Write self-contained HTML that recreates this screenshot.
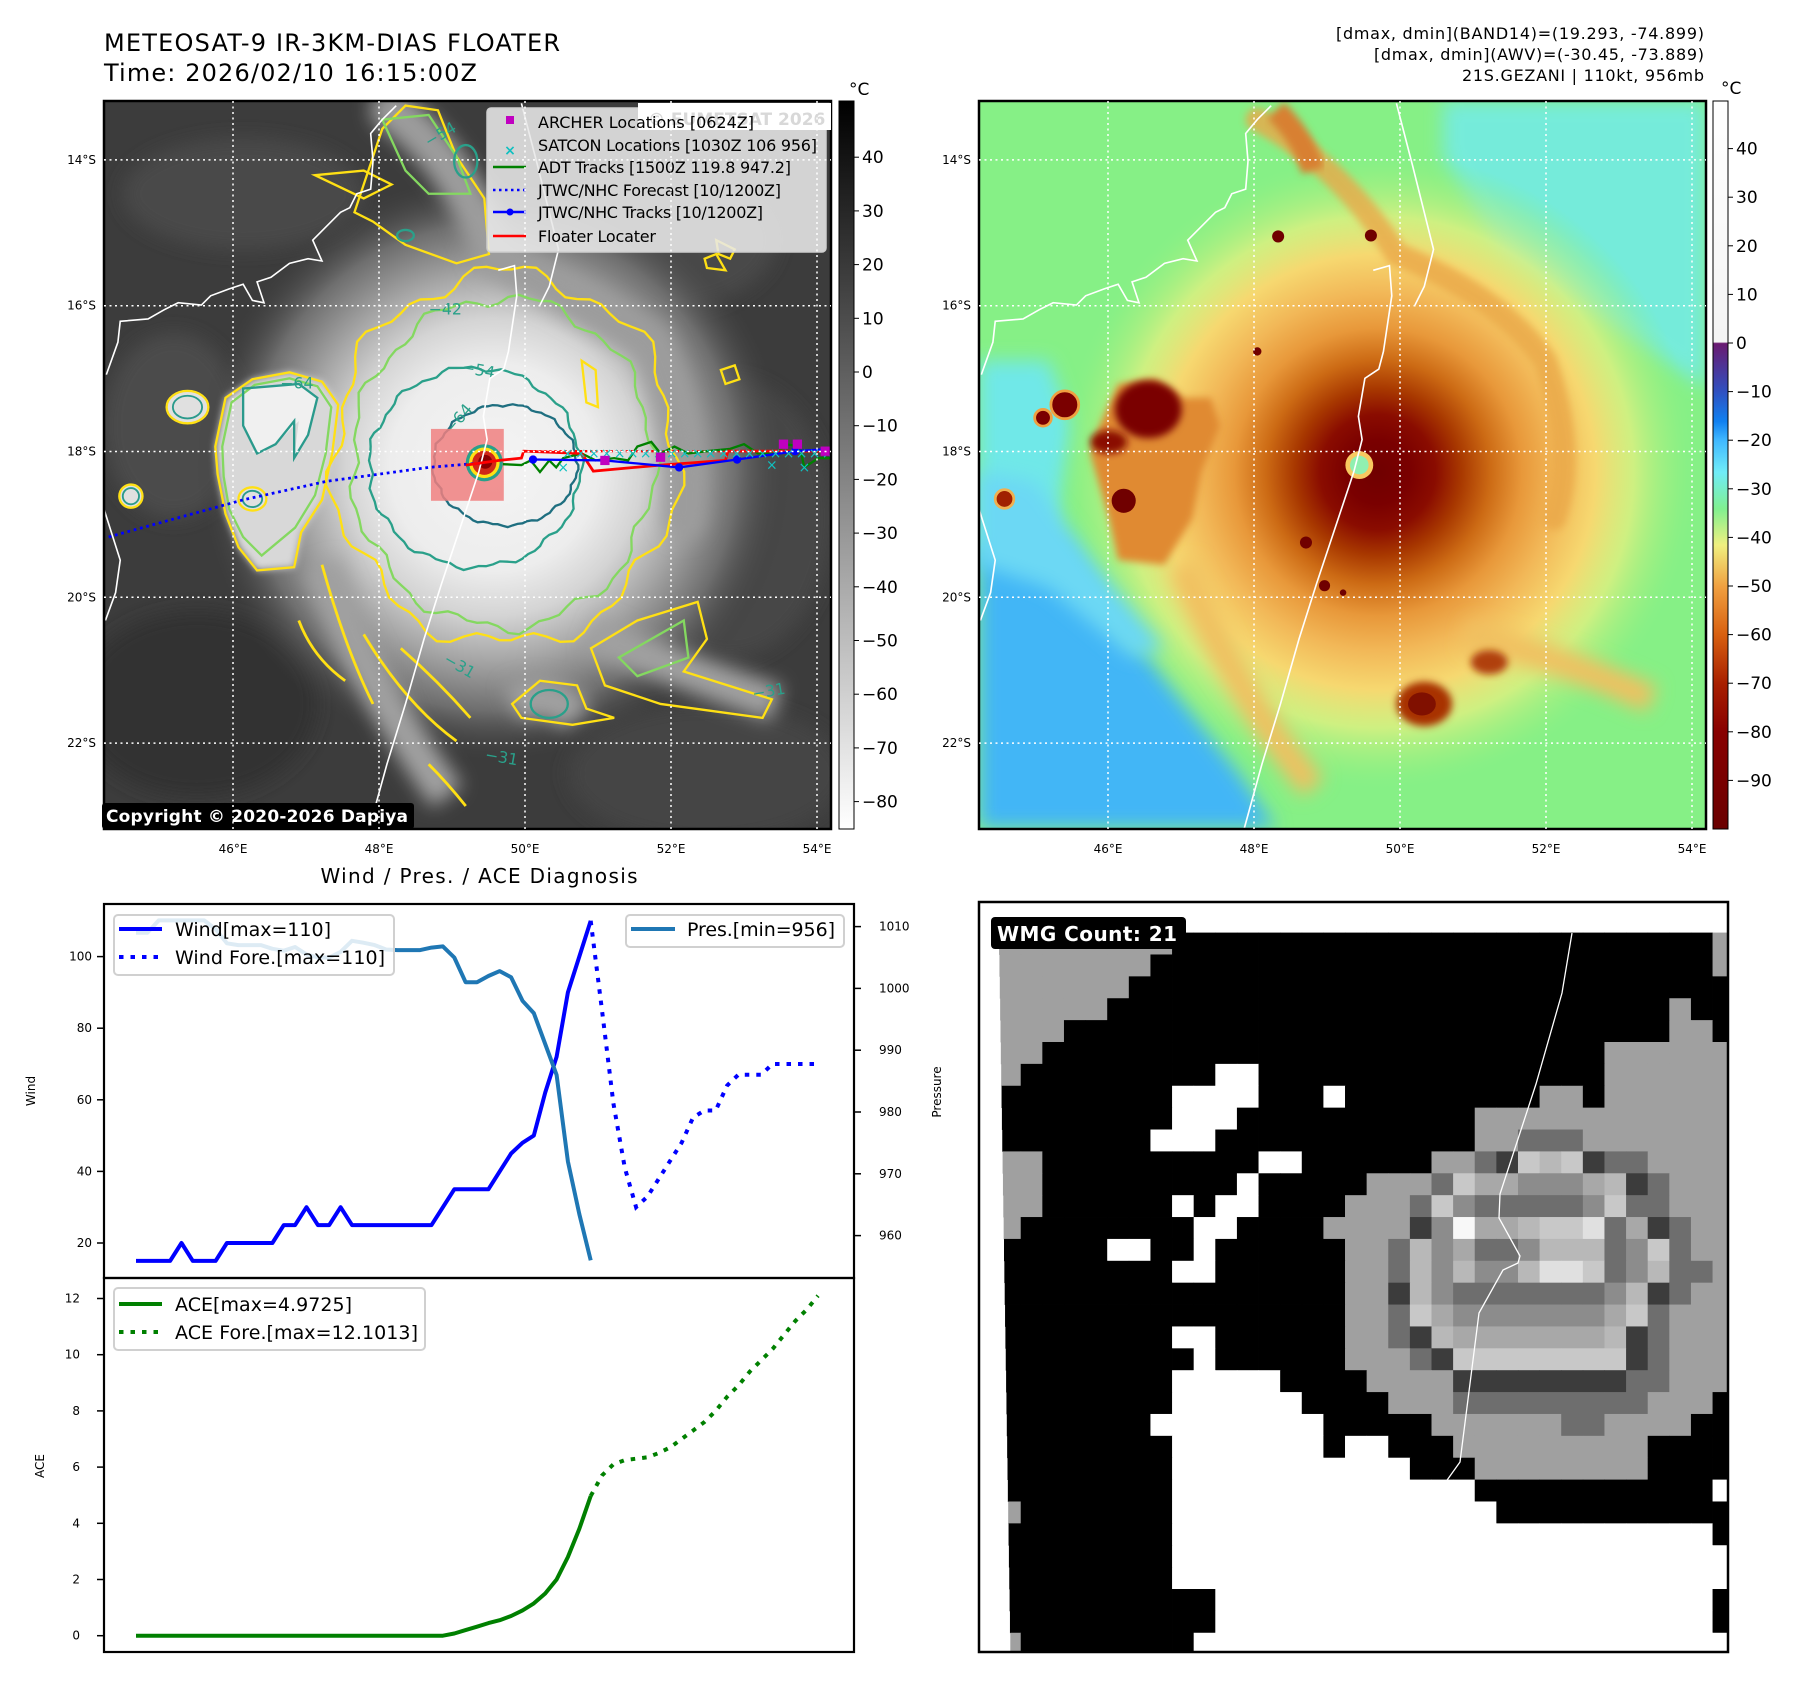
<!DOCTYPE html>
<html><head><meta charset="utf-8"><style>
html,body{margin:0;padding:0;background:#fff}
svg{display:block;font-family:"DejaVu Sans","Liberation Sans",sans-serif}
</style></head><body>
<svg id="fig" xmlns="http://www.w3.org/2000/svg" width="1797" height="1690" viewBox="0 0 1797 1690">
<defs>
<clipPath id="clipL"><rect x="104" y="101" width="727" height="728"/></clipPath>
<clipPath id="clipR"><rect x="979" y="101" width="727" height="728"/></clipPath>
<clipPath id="clipW"><rect x="980" y="903" width="747" height="748"/></clipPath>
<clipPath id="clipTop"><rect x="104" y="904" width="750" height="374"/></clipPath>
<filter id="blur20" x="-30%" y="-30%" width="160%" height="160%"><feGaussianBlur stdDeviation="20"/></filter>
<filter id="blur8" x="-30%" y="-30%" width="160%" height="160%"><feGaussianBlur stdDeviation="8"/></filter>
<radialGradient id="gCloud" cx="840" cy="790" r="640" gradientUnits="userSpaceOnUse">
<stop offset="0" stop-color="#f4f4f4"/><stop offset="0.35" stop-color="#ededed"/><stop offset="0.5" stop-color="#d4d4d4"/><stop offset="0.65" stop-color="#a6a6a6"/><stop offset="0.82" stop-color="#6e6e6e"/><stop offset="1" stop-color="#3b3b3b" stop-opacity="0"/>
</radialGradient>
<radialGradient id="gStorm" cx="860" cy="800" r="690" gradientUnits="userSpaceOnUse">
<stop offset="0" stop-color="#700000"/><stop offset="0.1" stop-color="#7a0000"/><stop offset="0.18" stop-color="#8a0c00"/><stop offset="0.26" stop-color="#a83800"/><stop offset="0.35" stop-color="#cc6a14"/><stop offset="0.45" stop-color="#e8983a"/><stop offset="0.56" stop-color="#f2b858"/><stop offset="0.68" stop-color="#f6d870"/><stop offset="0.8" stop-color="#e0f080" stop-opacity="0.8"/><stop offset="0.92" stop-color="#a8f080" stop-opacity="0.4"/><stop offset="1" stop-color="#86f086" stop-opacity="0"/>
</radialGradient>
<linearGradient id="gCbL" x1="0" y1="0" x2="0" y2="1"><stop offset="0" stop-color="#000"/><stop offset="1" stop-color="#fff"/></linearGradient>
<linearGradient id="gCbR" x1="0" y1="0" x2="0" y2="1">
<stop offset="0" stop-color="#ffffff"/><stop offset="0.331" stop-color="#f4f4f4"/><stop offset="0.333" stop-color="#6a1a70"/><stop offset="0.399" stop-color="#3050c0"/><stop offset="0.44" stop-color="#1080f0"/><stop offset="0.466" stop-color="#40b8ff"/><stop offset="0.51" stop-color="#70ecf8"/><stop offset="0.56" stop-color="#80f090"/><stop offset="0.61" stop-color="#f0f080"/><stop offset="0.667" stop-color="#f0a040"/><stop offset="0.733" stop-color="#d86010"/><stop offset="0.8" stop-color="#a82000"/><stop offset="0.867" stop-color="#880000"/><stop offset="1" stop-color="#6a0000"/>
</linearGradient>
</defs>
<rect x="0" y="0" width="1797" height="1690" fill="#fff"/>

<text x="104" y="51" font-size="24" textLength="456">METEOSAT-9 IR-3KM-DIAS FLOATER</text>
<text x="104" y="81" font-size="24" textLength="373">Time: 2026/02/10 16:15:00Z</text>
<text x="1704" y="39" font-size="16" text-anchor="end" textLength="368">[dmax, dmin](BAND14)=(19.293, -74.899)</text>
<text x="1704" y="60" font-size="16" text-anchor="end" textLength="330">[dmax, dmin](AWV)=(-30.45, -73.889)</text>
<text x="1704" y="81" font-size="16" text-anchor="end" textLength="242">21S.GEZANI | 110kt, 956mb</text>

<g id="leftMap" clip-path="url(#clipL)">
<rect x="104" y="101" width="727" height="728" fill="#3c3c3c"/>
<g id="leftArt" transform="translate(104,101) scale(0.4638)"></g>
</g>
<rect x="104" y="101" width="727" height="728" fill="none" stroke="#000" stroke-width="2.5"/>

<g id="rightMap" clip-path="url(#clipR)">
<rect x="979" y="101" width="727" height="728" fill="#86f086"/>
<g id="rightArt" transform="translate(979,101) scale(0.4638)"></g>
</g>
<rect x="979" y="101" width="727" height="728" fill="none" stroke="#000" stroke-width="2.5"/>

<rect x="839" y="101" width="15" height="728" fill="url(#gCbL)" stroke="#000" stroke-width="1"/>
<text x="849" y="95" font-size="17">°C</text>
<rect x="1713" y="101" width="15" height="728" fill="url(#gCbR)" stroke="#000" stroke-width="1"/>
<text x="1721" y="94" font-size="17">°C</text>
<g id="cbTicks"></g>

<g>
<rect x="487" y="108" width="339" height="144" rx="4" fill="#e8e8e8" fill-opacity="0.88" stroke="#cfcfcf" stroke-width="1.5"/>
<rect x="638" y="103" width="193" height="27" fill="#fff"/>
<text x="648" y="125" font-size="17" font-weight="bold" fill="#d8d8d8">© EUMETSAT 2026</text>
<rect x="506" y="116" width="8" height="8" fill="#c000c0"/>
<text x="538" y="128" font-size="16" textLength="216">ARCHER Locations [0624Z]</text>
<text x="510" y="155" font-size="14" font-weight="bold" fill="#10c0c0" text-anchor="middle">×</text>
<text x="538" y="151" font-size="16" textLength="279">SATCON Locations [1030Z 106 956]</text>
<line x1="493" y1="167" x2="526" y2="167" stroke="#008000" stroke-width="2.5"/>
<text x="538" y="173" font-size="16" textLength="253">ADT Tracks [1500Z 119.8 947.2]</text>
<line x1="493" y1="190" x2="526" y2="190" stroke="#0000ff" stroke-width="2.5" stroke-dasharray="2.5 3.5"/>
<text x="538" y="196" font-size="16" textLength="243">JTWC/NHC Forecast [10/1200Z]</text>
<line x1="493" y1="212" x2="526" y2="212" stroke="#0000ff" stroke-width="2.5"/><circle cx="510" cy="212" r="3.5" fill="#0000ff"/>
<text x="538" y="218" font-size="16" textLength="225">JTWC/NHC Tracks [10/1200Z]</text>
<line x1="493" y1="236" x2="526" y2="236" stroke="#ff0000" stroke-width="2.5"/>
<text x="538" y="242" font-size="16" textLength="118">Floater Locater</text>
</g>
<g>
<rect x="102" y="803" width="312" height="26" rx="3" fill="#000"/>
<text x="106" y="822" font-size="17" font-weight="bold" fill="#fff" textLength="302">Copyright © 2020-2026 Dapiya</text>
</g>
<g id="mapTicks"></g>

<text x="479" y="883" font-size="20" text-anchor="middle" textLength="317">Wind / Pres. / ACE Diagnosis</text>
<g id="chart"></g>

<g id="wmg" clip-path="url(#clipW)">
<rect x="979" y="902" width="749" height="750" fill="#fff"/>
<g id="wmgCells"></g>
</g>
<rect x="979" y="902" width="749" height="750" fill="none" stroke="#000" stroke-width="2.5"/>
<g>
<rect x="991" y="917" width="195" height="32" rx="4" fill="#000"/>
<text x="997" y="941" font-size="20" font-weight="bold" fill="#fff" textLength="180">WMG Count: 21</text>
</g>

<script>
const windObs = [15,15,15,15,20,15,15,15,20,20,20,20,20,25,25,30,25,25,30,25,25,25,25,25,25,25,25,30,35,35,35,35,40,45,48,50,62,72,90,100,110];
const windFore = [110,85,59,41,30,33,38,43,48,55,57,57,64,67,67,67,70,70,70,70,70];
const presObs = [1009,1009,1011,1011,1011,1011,1011,1009.6,1007.3,1007,1007,1007,1006.4,1006.1,1006.7,1005.5,1005,1005,1005.9,1007.7,1007.4,1007,1006.3,1006.2,1006.2,1006.2,1006.6,1006.8,1005,1001,1001,1002,1002.8,1001.8,998,996,991,986,972,963.5,956];
const aceObs = [0,0,0,0,0,0,0,0,0,0,0,0,0,0,0,0,0,0,0,0,0,0,0,0,0,0,0,0,0.08,0.2,0.32,0.45,0.55,0.7,0.9,1.15,1.5,2.0,2.8,3.8,4.97];
const aceFore = [4.97,5.7,6.1,6.25,6.3,6.35,6.5,6.7,7.0,7.3,7.6,8.0,8.5,8.9,9.4,9.8,10.2,10.7,11.2,11.6,12.1];
const windTicks = [20,40,60,80,100];
const presTicks = [960,970,980,990,1000,1010];
const aceTicks = [0,2,4,6,8,10,12];
const irCbTicks = [40,30,20,10,0,-10,-20,-30,-40,-50,-60,-70,-80];
const awvCbTicks = [40,30,20,10,0,-10,-20,-30,-40,-50,-60,-70,-80,-90];
const latTicks = [14,16,18,20,22];
const lonTicks = [46,48,50,52,54];

const NS='http://www.w3.org/2000/svg';
function mk(tag, attrs, parent){const e=document.createElementNS(NS,tag);for(const k in attrs)e.setAttribute(k,attrs[k]);if(parent)parent.appendChild(e);return e;}

const NSTEP = 60;
const xIdx = i => 136 + i*682/NSTEP;
const yWind = v => 956.6 + (100-v)*3.58;
const yPres = p => 926.6 + (1010-p)*6.18;
const yAce = a => 1635.7 - a*28.1;
const yIrCb = v => 372 - v*5.37;
const yAwvCb = v => 343 - v*4.86;
const xLon = lon => 525 + (lon-50)*73;
const yLat = lat => 451.5 + (lat-18)*72.9;

function pts(arr, off, yf){return arr.map((v,k)=>xIdx(k+off).toFixed(1)+','+yf(v).toFixed(1)).join(' ');}

const chart=document.getElementById('chart');
let e=mk('rect',{x:104,y:904,width:750,height:374,fill:'none',stroke:'#000','stroke-width':2.2},chart);


e=mk('rect',{x:104,y:1278,width:750,height:374,fill:'none',stroke:'#000','stroke-width':2.2},chart);



windTicks.forEach(v=>{const y=yWind(v);
 mk('line',{x1:97,y1:y,x2:104,y2:y,stroke:'#000','stroke-width':1.5},chart);
 const t=mk('text',{x:92,y:y+4,'font-size':12,'text-anchor':'end'},chart);t.textContent=v;
 
 });
presTicks.forEach(v=>{const y=yPres(v);
 mk('line',{x1:854,y1:y,x2:861,y2:y,stroke:'#000','stroke-width':1.5},chart);
 const t=mk('text',{x:879,y:y+4,'font-size':12},chart);t.textContent=v;
 
 });
aceTicks.forEach(v=>{const y=yAce(v);
 mk('line',{x1:97,y1:y,x2:104,y2:y,stroke:'#000','stroke-width':1.5},chart);
 const t=mk('text',{x:80,y:y+4,'font-size':12,'text-anchor':'end'},chart);t.textContent=v;
 
 });
e=mk('text',{x:0,y:0,'font-size':12,'text-anchor':'middle',transform:'translate(35,1091) rotate(-90)'},chart);e.textContent='Wind';


e=mk('text',{x:0,y:0,'font-size':12,'text-anchor':'middle',transform:'translate(941,1092) rotate(-90)'},chart);e.textContent='Pressure';


e=mk('text',{x:0,y:0,'font-size':12,'text-anchor':'middle',transform:'translate(44,1466) rotate(-90)'},chart);e.textContent='ACE';



const topG=mk('g',{'clip-path':'url(#clipTop)'},chart);
e=mk('polyline',{points:pts(windObs,0,yWind),fill:'none',stroke:'#0000ff','stroke-width':4,'stroke-linejoin':'round'},topG);


e=mk('polyline',{points:pts(windFore,40,yWind),fill:'none',stroke:'#0000ff','stroke-width':4,'stroke-dasharray':'4.5 7'},topG);


let lg=mk('g',{},chart);


mk('rect',{x:114,y:915,width:280,height:60,rx:4,fill:'#fff','fill-opacity':0.85,stroke:'#d0d0d0','stroke-width':2},lg);
mk('line',{x1:119,y1:929,x2:162,y2:929,stroke:'#0000ff','stroke-width':4},lg);
mk('line',{x1:119,y1:957,x2:162,y2:957,stroke:'#0000ff','stroke-width':4,'stroke-dasharray':'4.5 7'},lg);
e=mk('text',{x:175,y:936,'font-size':19,textLength:156},lg);e.textContent='Wind[max=110]';
e=mk('text',{x:175,y:964,'font-size':19,textLength:210},lg);e.textContent='Wind Fore.[max=110]';
e=mk('polyline',{points:pts(presObs,0,yPres),fill:'none',stroke:'#1f77b4','stroke-width':4,'stroke-linejoin':'round'},topG);


lg=mk('g',{},chart);


mk('rect',{x:626,y:915,width:218,height:32,rx:4,fill:'#fff','fill-opacity':0.85,stroke:'#d0d0d0','stroke-width':2},lg);
mk('line',{x1:631,y1:929,x2:675,y2:929,stroke:'#1f77b4','stroke-width':4},lg);
e=mk('text',{x:687,y:936,'font-size':19,textLength:148},lg);e.textContent='Pres.[min=956]';
e=mk('polyline',{points:pts(aceObs,0,yAce),fill:'none',stroke:'#008000','stroke-width':4,'stroke-linejoin':'round'},chart);


e=mk('polyline',{points:pts(aceFore,40,yAce),fill:'none',stroke:'#008000','stroke-width':4,'stroke-dasharray':'4.5 7'},chart);


lg=mk('g',{},chart);


mk('rect',{x:114,y:1288,width:311,height:62,rx:4,fill:'#fff','fill-opacity':0.85,stroke:'#d0d0d0','stroke-width':2},lg);
mk('line',{x1:119,y1:1304,x2:162,y2:1304,stroke:'#008000','stroke-width':4},lg);
mk('line',{x1:119,y1:1332,x2:162,y2:1332,stroke:'#008000','stroke-width':4,'stroke-dasharray':'4.5 7'},lg);
e=mk('text',{x:175,y:1311,'font-size':19,textLength:177},lg);e.textContent='ACE[max=4.9725]';
e=mk('text',{x:175,y:1339,'font-size':19,textLength:243},lg);e.textContent='ACE Fore.[max=12.1013]';

const cbt=document.getElementById('cbTicks');
irCbTicks.forEach(v=>{const y=yIrCb(v);
 mk('line',{x1:854,y1:y,x2:859,y2:y,stroke:'#000','stroke-width':1},cbt);
 const t=mk('text',{x:862,y:y+6,'font-size':17},cbt);t.textContent=(v<0?'\u2212'+(-v):v);
 
 });
awvCbTicks.forEach(v=>{const y=yAwvCb(v);
 mk('line',{x1:1728,y1:y,x2:1733,y2:y,stroke:'#000','stroke-width':1},cbt);
 const t=mk('text',{x:1736,y:y+6,'font-size':17},cbt);t.textContent=(v<0?'\u2212'+(-v):v);
 
 });

const mt=document.getElementById('mapTicks');
[0,875].forEach(dx=>{
 const g=mk('g',{'clip-path':dx?'url(#clipR)':'url(#clipL)'},mt);
 lonTicks.forEach(lo=>{const x=xLon(lo)+dx;mk('line',{x1:x,y1:101,x2:x,y2:829,stroke:'#fff','stroke-width':1.5,'stroke-dasharray':'2 3.5'},g);});
 latTicks.forEach(la=>{const y=yLat(la);mk('line',{x1:104+dx,y1:y,x2:831+dx,y2:y,stroke:'#fff','stroke-width':1.5,'stroke-dasharray':'2 3.5'},g);});
 lonTicks.forEach(lo=>{const t=mk('text',{x:xLon(lo)+dx,y:853,'font-size':12,'text-anchor':'middle'},mt);t.textContent=lo+'°E';
  
  });
 latTicks.forEach(la=>{const t=mk('text',{x:96+dx,y:yLat(la)+4,'font-size':12,'text-anchor':'end'},mt);t.textContent=la+'°S';
  
  });
});

function wob(cx,cy,rx,ry,amp,k,ph){let d='';for(let t=0;t<=90;t++){const a=t/90*2*Math.PI;const r=1+amp*(Math.sin(k*a+ph)*0.6+Math.sin((2*k+3)*a+ph*1.7)*0.4);d+=(t?'L':'M')+(cx+rx*r*Math.cos(a)).toFixed(1)+','+(cy+ry*r*Math.sin(a)).toFixed(1);}return d+'Z';}
const coast1='M5,590 L30,520 L35,475 L95,470 L130,450 L160,435 L210,440 L230,420 L270,405 L300,395 L320,430 L345,435 L330,390 L360,380 L400,350 L440,340 L470,345 L450,300 L490,260 L510,240 L530,230 L545,200 L575,190 L580,130 L575,70 L600,40 L630,10';
const coast2='M900,5 L935,140 L980,320 L960,400 L940,440';
const coast3='M850,365 L885,355 L890,420 L872,540 L862,578 L832,598 L818,680 L826,730 L808,800 L788,860 L758,950 L728,1040 L690,1160 L650,1300 L610,1430 L572,1568';
const coast4='M0,880 L35,990 L25,1060 L3,1120';
function coasts(g){[coast1,coast2,coast3,coast4].forEach(d=>mk('path',{d:d,fill:'none',stroke:'#fff','stroke-width':3.5},g));}

const L=document.getElementById('leftArt');
[[300,200,260,120,'#4a4a4a'],[1200,300,250,150,'#484848'],[1350,900,220,300,'#474747'],[200,1300,260,200,'#333'],[1300,1450,300,150,'#454545'],[150,700,150,200,'#4c4c4c']].forEach(a=>mk('ellipse',{cx:a[0],cy:a[1],rx:a[2],ry:a[3],fill:a[4],filter:'url(#blur20)'},L));
mk('ellipse',{cx:840,cy:790,rx:660,ry:680,fill:'url(#gCloud)'},L);
mk('path',{d:'M620,20 Q760,120 840,330 Q1000,420 1180,520 Q1260,700 1250,900',fill:'none',stroke:'#9c9c9c','stroke-width':90,filter:'url(#blur20)','stroke-linecap':'round'},L);
mk('path',{d:'M470,1000 Q560,1250 740,1500 M1050,1150 Q1250,1230 1450,1300 M880,1300 Q960,1260 1020,1330',fill:'none',stroke:'#a0a0a0','stroke-width':80,filter:'url(#blur20)'},L);
const wblob='M240,745 L262,640 L320,600 L400,585 L470,605 L505,655 L492,760 L470,860 L425,930 L410,1005 L330,1012 L290,962 L262,890 L245,805 Z';
mk('path',{d:wblob,fill:'#d8d8d8',filter:'url(#blur8)'},L);
mk('path',{d:'M300,620 L420,610 L460,640 L440,720 L410,770 L420,690 L370,740 L330,760 L300,700 Z',fill:'#f0f0f0'},L);
mk('path',{d:wblob,fill:'none',stroke:'#ffe014','stroke-width':5},L);
mk('path',{d:'M255,745 L275,650 L325,612 L400,598 L460,615 L490,660 L478,760 L455,850 L412,920 L340,980 L300,940 L270,880 L258,810 Z',fill:'none',stroke:'#84d860','stroke-width':5},L);
mk('path',{d:'M300,620 L420,610 L460,640 L440,720 L410,770 L410,690 L370,740 L330,760 L300,700 Z',fill:'none',stroke:'#2a9a8c','stroke-width':5},L);
[[180,660,45,35],[58,852,25,25],[320,858,30,25]].forEach(b=>{
 mk('ellipse',{cx:b[0],cy:b[1],rx:b[2],ry:b[3],fill:'#e0e0e0',stroke:'#ffe014','stroke-width':5},L);
 mk('ellipse',{cx:b[0],cy:b[1],rx:b[2]*0.7,ry:b[3]*0.7,fill:'none',stroke:'#2a9a8c','stroke-width':4},L);});
mk('path',{d:wob(865,770,370,400,0.07,7,0),fill:'none',stroke:'#ffe014','stroke-width':5},L);
mk('path',{d:wob(860,780,325,355,0.05,9,1),fill:'none',stroke:'#84d860','stroke-width':5},L);
mk('path',{d:wob(800,790,228,215,0.035,11,2),fill:'none',stroke:'#2aa08a','stroke-width':5},L);
mk('path',{d:wob(865,785,155,130,0.03,13,0.5),fill:'none',stroke:'#1f6f80','stroke-width':5},L);
['M540,240 L600,60 L650,10 L720,20 L760,120 L820,210 L830,330 L760,350 L650,310 L580,260 Z',
 'M455,160 L560,150 L620,180 L560,210 Z',
 'M880,1300 L940,1250 L1020,1260 L1040,1310 L1100,1330 L1010,1345 L900,1330 Z',
 'M1050,1180 L1150,1120 L1280,1080 L1300,1160 L1250,1230 L1440,1290 L1420,1330 L1200,1300 L1080,1260 Z',
 'M1030,560 L1060,580 L1065,660 L1040,650 Z','M1330,580 L1360,570 L1370,600 L1340,610 Z',
 'M1295,340 L1320,330 L1340,365 L1300,360 Z','M1320,300 L1360,320 L1350,340 L1325,330 Z'].forEach(d=>mk('path',{d:d,fill:'none',stroke:'#ffe014','stroke-width':5},L));
['M470,1000 Q520,1180 580,1300','M560,1150 Q650,1300 760,1380','M640,1180 Q720,1250 790,1330','M700,1430 Q740,1470 780,1520','M420,1120 Q450,1200 520,1250'].forEach(d=>mk('path',{d:d,fill:'none',stroke:'#ffe014','stroke-width':6},L));
['M600,40 L700,30 L760,120 L790,200 L700,200 L650,150 Z','M1110,1200 L1250,1120 L1260,1200 L1150,1240 Z'].forEach(d=>mk('path',{d:d,fill:'none',stroke:'#84d860','stroke-width':5},L));
mk('ellipse',{cx:960,cy:1300,rx:40,ry:30,fill:'none',stroke:'#2aa08a','stroke-width':5},L);
mk('ellipse',{cx:780,cy:130,rx:25,ry:35,fill:'none',stroke:'#2aa08a','stroke-width':5},L);
mk('ellipse',{cx:650,cy:290,rx:18,ry:12,fill:'none',stroke:'#2aa08a','stroke-width':5},L);
[['−64',380,620,0],['−54',770,585,10],['−64',750,720,-50],['−42',700,460,0],['−31',730,1210,30],['−31',820,1420,10],['−54',700,100,-30],['−31',1400,1290,-10]].forEach(a=>{
 const t=mk('text',{x:a[1],y:a[2],'font-size':34,fill:'#2aa08a',transform:'rotate('+a[3]+' '+a[1]+' '+a[2]+')'},L);t.textContent=a[0];});
mk('rect',{x:705,y:707,width:157,height:155,fill:'#f08080','fill-opacity':0.85},L);
mk('circle',{cx:820,cy:780,r:40,fill:'#2aa08a'},L);
mk('circle',{cx:820,cy:780,r:33,fill:'#ffe014'},L);
mk('circle',{cx:820,cy:780,r:26,fill:'#d02818'},L);
mk('circle',{cx:822,cy:778,r:15,fill:'#8a0000'},L);
coasts(L);
mk('polyline',{points:'10,940 300,860 480,820 700,790 820,780',fill:'none',stroke:'#0000ff','stroke-width':6,'stroke-dasharray':'6 8'},L);
mk('polyline',{points:'905,755 1568,755',fill:'none',stroke:'#ff0000','stroke-width':5,'stroke-dasharray':'5 6'},L);
mk('polyline',{points:'860,783 900,785 920,775 940,800 960,775 975,790 990,770 1030,760 1060,775 1100,770 1130,775 1150,745 1180,735 1200,760 1230,745 1260,760 1300,755 1350,750 1380,740 1410,760 1450,760 1470,740 1500,745 1510,790 1540,770 1568,770',fill:'none',stroke:'#008000','stroke-width':5},L);
mk('polyline',{points:'780,785 850,775 900,770 905,755 1030,760 1055,798 1200,785 1340,775 1345,755 1568,755',fill:'none',stroke:'#ff0000','stroke-width':6},L);
mk('polyline',{points:'925,773 1080,775 1240,790 1365,773 1490,755 1568,750',fill:'none',stroke:'#0000ff','stroke-width':5},L);
[925,1080,1240,1365,1490].forEach((x,k)=>mk('circle',{cx:x,cy:[773,775,790,773,755][k],r:9,fill:'#0000ff'},L));
for(let x=1000;x<1568;x+=28){const t=mk('text',{x:x,y:770,'font-size':30,fill:'#10c0c0','text-anchor':'middle'},L);t.textContent='×';}
[[990,800],[1440,795],[1510,800]].forEach(p=>{const t=mk('text',{x:p[0],y:p[1],'font-size':30,fill:'#10c0c0','text-anchor':'middle'},L);t.textContent='×';});
[[1080,775],[1200,768],[1465,740],[1495,740],[1555,755]].forEach(p=>mk('rect',{x:p[0]-10,y:p[1]-10,width:20,height:20,fill:'#c000c0'},L));

const R=document.getElementById('rightArt');
mk('path',{d:'M1000,0 L1568,0 L1568,620 L1350,480 L1120,330 L1000,120 Z',fill:'#72eaf0',opacity:0.8,filter:'url(#blur20)'},R);
mk('path',{d:'M0,560 L150,560 L200,700 L150,1000 L0,1000 Z',fill:'#70e8e8',filter:'url(#blur20)'},R);
mk('ellipse',{cx:860,cy:800,rx:690,ry:690,fill:'url(#gStorm)'},R);
mk('path',{d:'M0,960 L180,950 L300,1120 L440,1300 L560,1450 L640,1568 L0,1568 Z',fill:'#42b6f6',filter:'url(#blur20)'},R);
mk('path',{d:'M0,800 L120,820 L250,1000 L400,1180 L330,1200 L150,1050 L0,1000 Z',fill:'#6cd8f4',filter:'url(#blur20)'},R);
mk('path',{d:'M600,40 Q780,140 900,330 Q1120,420 1220,560 Q1290,760 1240,900',fill:'none',stroke:'#eaa848',opacity:0.8,'stroke-width':50,filter:'url(#blur8)','stroke-linecap':'round'},R);
mk('path',{d:'M640,20 Q700,80 720,150',fill:'none',stroke:'#d88030','stroke-width':50,filter:'url(#blur8)'},R);
mk('path',{d:'M440,1000 Q540,1260 720,1480 M1050,1150 Q1250,1200 1450,1290',fill:'none',stroke:'#f0c060','stroke-width':60,filter:'url(#blur20)'},R);
mk('path',{d:'M300,610 L380,600 L440,640 L500,640 L520,700 L480,800 L460,900 L400,1000 L300,990 L280,900 L240,760 L260,700 Z',fill:'#e08a30',filter:'url(#blur8)'},R);
mk('ellipse',{cx:365,cy:665,rx:72,ry:62,fill:'#7a0000',filter:'url(#blur8)'},R);
mk('ellipse',{cx:280,cy:735,rx:40,ry:25,fill:'#8a1000',filter:'url(#blur8)'},R);
mk('circle',{cx:312,cy:862,r:26,fill:'#700000'},R);
mk('circle',{cx:185,cy:655,r:30,fill:'#7a0000',stroke:'#f0a040','stroke-width':6},R);
mk('circle',{cx:138,cy:683,r:18,fill:'#7a0000',stroke:'#f0a040','stroke-width':6},R);
mk('circle',{cx:55,cy:858,r:20,fill:'#a02000',stroke:'#f0b050','stroke-width':6},R);
mk('ellipse',{cx:960,cy:1300,rx:60,ry:48,fill:'#a83000',filter:'url(#blur8)'},R);
mk('ellipse',{cx:955,cy:1300,rx:30,ry:25,fill:'#801000'},R);
mk('ellipse',{cx:1100,cy:1210,rx:40,ry:26,fill:'#b04010',filter:'url(#blur8)'},R);
[[645,292,13],[845,290,13],[600,540,9],[705,952,13],[745,1045,12],[785,1060,7]].forEach(p=>mk('circle',{cx:p[0],cy:p[1],r:p[2],fill:'#700000'},R));
mk('circle',{cx:820,cy:785,r:30,fill:'#f8c860'},R);
mk('circle',{cx:820,cy:785,r:20,fill:'#90f0b0'},R);
coasts(R);

const wmgRows = [
 [[0,7,'G'],[33,33,'G']],[[0,6,'G'],[33,33,'G']],[[0,5,'G']],[[0,4,'G'],[31,31,'G']],[[0,2,'G'],[31,32,'G']],
 [[0,1,'G'],[28,33,'G']],[[0,0,'G'],[10,11,'W'],[28,33,'G']],[[8,11,'W'],[15,15,'W'],[25,26,'G'],[28,33,'G']],
 [[8,10,'W'],[22,33,'G']],[[7,9,'W'],[22,23,'G'],[24,26,'m'],[27,33,'G']],
 [[0,1,'G'],[12,13,'W'],[20,21,'G'],[22,22,'m'],[23,23,'d'],[24,24,'c'],[25,25,'b'],[26,26,'c'],[27,27,'d'],[28,29,'m'],[30,33,'G']],
 [[0,1,'G'],[11,11,'W'],[17,19,'G'],[20,20,'m'],[21,21,'c'],[22,23,'a'],[24,26,'8'],[27,27,'a'],[28,28,'b'],[29,29,'d'],[30,30,'m'],[31,33,'G']],
 [[0,1,'G'],[8,8,'W'],[10,11,'W'],[16,18,'G'],[19,19,'m'],[20,20,'c'],[21,21,'8'],[22,26,'m'],[27,27,'8'],[28,28,'c'],[29,30,'m'],[31,33,'G']],
 [[0,0,'G'],[9,10,'W'],[15,18,'G'],[19,19,'d'],[20,20,'8'],[21,21,'f'],[22,23,'a'],[24,24,'b'],[25,26,'c'],[27,27,'e'],[28,28,'m'],[29,29,'a'],[30,30,'d'],[31,31,'m'],[32,33,'G']],
 [[5,6,'W'],[9,9,'W'],[16,17,'G'],[18,18,'m'],[19,19,'b'],[20,20,'8'],[21,21,'a'],[22,23,'m'],[24,24,'8'],[25,27,'b'],[28,28,'m'],[29,29,'8'],[30,30,'c'],[31,31,'m'],[32,33,'G']],
 [[8,9,'W'],[16,17,'G'],[18,18,'m'],[19,19,'b'],[20,20,'8'],[21,21,'b'],[22,23,'8'],[24,24,'b'],[25,26,'e'],[27,27,'c'],[28,28,'m'],[29,29,'8'],[30,30,'b'],[31,32,'m'],[33,33,'G']],
 [[16,17,'G'],[18,18,'d'],[19,19,'b'],[20,20,'8'],[21,27,'m'],[28,28,'8'],[29,29,'b'],[30,30,'d'],[31,31,'m'],[32,33,'G']],
 [[16,17,'G'],[18,18,'m'],[19,19,'c'],[20,20,'a'],[21,27,'8'],[28,28,'a'],[29,29,'c'],[30,30,'m'],[31,33,'G']],
 [[8,9,'W'],[16,17,'G'],[18,18,'m'],[19,19,'d'],[20,20,'b'],[21,27,'a'],[28,28,'b'],[29,29,'d'],[30,30,'m'],[31,33,'G']],
 [[9,9,'W'],[16,18,'G'],[19,19,'m'],[20,20,'d'],[21,28,'c'],[29,29,'d'],[30,30,'m'],[31,33,'G']],
 [[8,12,'W'],[17,20,'G'],[21,28,'d'],[29,30,'m'],[31,33,'G']],
 [[8,13,'W'],[18,20,'G'],[21,29,'m'],[30,32,'G']],
 [[7,14,'W'],[20,25,'G'],[26,27,'m'],[28,31,'G']],
 [[8,14,'W'],[16,17,'W'],[21,29,'G']],
 [[8,18,'W'],[22,29,'G']],
 [[8,21,'W'],[33,33,'W']],
 [[0,0,'G'],[8,22,'W']],
 [[8,32,'W']],[[8,33,'W']],[[8,33,'W']],[[10,32,'W']],[[10,32,'W']],
 [[0,0,'G'],[9,33,'W']],[[0,0,'0'],[9,33,'W']]
];
const wmgColors={'0':'#000','G':'#a0a0a0','W':'#fff','m':'#6e6e6e','d':'#3c3c3c','8':'#8c8c8c','a':'#a8a8a8','b':'#b8b8b8','c':'#c8c8c8','e':'#e0e0e0','f':'#f8f8f8'};
const wc=document.getElementById('wmgCells');
const CW=21.62, CH=21.88, X0=999.1, Y0=932.6;
wmgRows.forEach((runs,r)=>{
 const row=new Array(34).fill('0');
 runs.forEach(rn=>{for(let c=rn[0];c<=rn[1];c++)row[c]=rn[2];});
 const lead = X0 + r*0.35;
 row.forEach((ch,c)=>{
  const x=(c===0?lead:X0+c*CW);
  const w=(c===0?X0+CW-lead:CW);
  mk('rect',{x:x.toFixed(2),y:(Y0+r*CH).toFixed(2),width:(w+0.4).toFixed(2),height:(CH+0.4).toFixed(2),fill:wmgColors[ch]},wc);
 });
});
mk('path',{d:'M1572,933 L1562,993 L1536,1084 L1500,1194 L1499,1218 L1520,1256 L1518,1263 L1503,1270 L1479,1313 L1460,1462 L1445,1483',fill:'none',stroke:'#fff','stroke-width':1.3},wc);
</script>
</svg>
</body></html>
